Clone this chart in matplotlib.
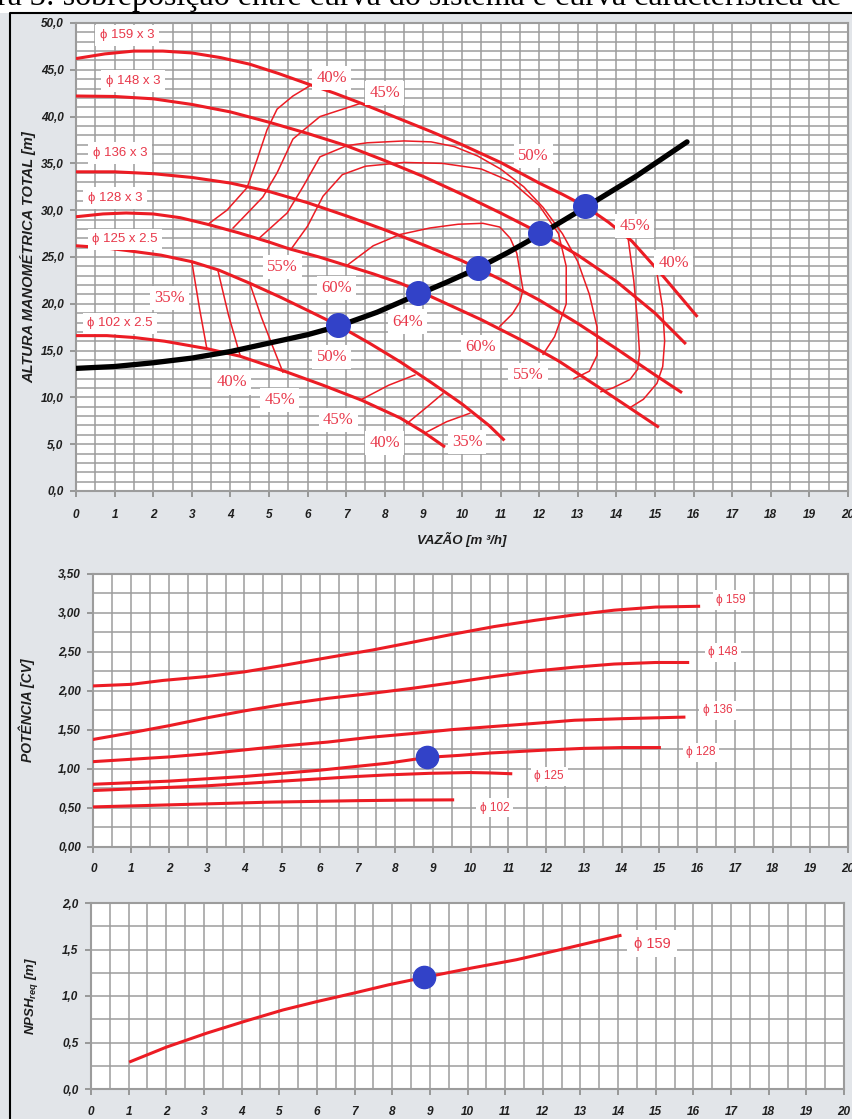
import numpy as np
import matplotlib.pyplot as plt
from matplotlib.ticker import MultipleLocator, FuncFormatter
from matplotlib.patches import Rectangle
from matplotlib.lines import Line2D

plt.rcParams['font.family'] = ['Liberation Sans', 'DejaVu Sans']
plt.rcParams['mathtext.fontset'] = 'custom'
plt.rcParams['mathtext.it'] = 'Liberation Sans:bold:italic'
plt.rcParams['mathtext.rm'] = 'Liberation Sans:bold:italic'

RED = '#ec1c24'
LBL_RED = '#e8384a'
BLUE = '#3242c8'

# ---- head curves (Q m3/h, H m) ----
q159 = [0, 0.75, 1.5, 2.25, 3, 3.75, 4.5, 5.25, 6, 6.7, 7.4, 8.3, 9.2, 10, 11, 12, 12.6, 13.2, 13.8, 14.4, 15.2, 16.1]
h159 = [46.2, 46.7, 47.0, 47.0, 46.8, 46.3, 45.6, 44.6, 43.5, 42.5, 41.4, 39.9, 38.4, 37.0, 35.1, 32.9, 31.7,
        30.4, 28.7, 26.7, 23.0, 18.6]
q148 = [0, 1, 2, 3, 4, 5, 6, 7, 8, 9, 10, 11, 12, 13, 14, 15, 15.8]
h148 = [42.2, 42.15, 41.9, 41.3, 40.5, 39.4, 38.2, 36.9, 35.3, 33.6, 31.7, 29.7, 27.6, 25.2, 22.4, 19.0, 15.7]
q136 = [0, 1, 2, 3, 4, 5, 6, 7, 8, 9, 10, 11, 12, 13, 14, 15, 15.7]
h136 = [34.1, 34.1, 33.9, 33.5, 32.9, 32.0, 30.8, 29.4, 27.9, 26.3, 24.6, 22.6, 20.4, 17.9, 15.2, 12.4, 10.5]
q128 = [0, 0.7, 1.3, 2, 2.7, 3.4, 4.2, 5, 5.5, 6.3, 7, 7.7, 8.4, 8.86, 9.5, 10.5, 11.5, 12.5, 13.5, 14.3, 15.1]
h128 = [29.3, 29.6, 29.7, 29.6, 29.2, 28.5, 27.6, 26.6, 25.9, 25.0, 24.1, 23.2, 22.2, 21.4, 20.2, 18.3, 16.2,
        13.9, 11.2, 9.0, 6.8]
q125 = [0, 0.7, 1.3, 2.2, 3, 3.7, 4.5, 5.3, 6, 6.79, 7.6, 8.4, 9.2, 10, 10.7, 11.1]
h125 = [26.2, 26.0, 25.7, 25.2, 24.5, 23.6, 22.2, 20.7, 19.3, 17.7, 15.8, 13.8, 11.6, 9.3, 7.0, 5.4]
q102 = [0, 0.8, 1.5, 2.3, 3.4, 4.25, 5.4, 6.4, 7.4, 8.4, 9.0, 9.56]
h102 = [16.6, 16.6, 16.4, 16.0, 15.2, 14.4, 12.8, 11.3, 9.7, 7.8, 6.3, 4.7]

# system curve
q_sys = [0, 1, 2, 3, 4, 5, 6, 6.79, 7.8, 8.86, 9.6, 10.41, 11.2, 12.02, 13.19, 14.5, 15.83]
h_sys = [13.1, 13.3, 13.7, 14.2, 14.9, 15.8, 16.7, 17.6, 19.1, 21.0, 22.3, 23.8, 25.5, 27.4, 30.3, 33.6, 37.3]
q_op = [6.79, 8.86, 10.41, 12.02, 13.19]
h_op = [17.7, 21.2, 23.8, 27.6, 30.4]

# iso-efficiency lines (Q list, H list)
eff_lines = [
    # upper family, left / right branches
    ([3.42, 3.91, 4.43, 4.69, 4.95, 5.21, 5.62, 6.06], [28.5, 30.0, 32.4, 35.4, 38.6, 40.8, 42.2, 43.3]),
    ([15.05, 15.2, 15.25, 15.2, 15.05, 14.7, 14.35], [23.3, 19.5, 16.0, 13.3, 11.5, 9.8, 8.9]),
    ([4.07, 4.84, 5.21, 5.62, 5.85, 6.32, 7.36], [28.1, 31.4, 34.0, 37.6, 38.4, 40.0, 41.4]),
    ([14.3, 14.45, 14.55, 14.6, 14.55, 14.35, 13.9, 13.6], [27.1, 22.5, 18.0, 14.7, 13.0, 11.9, 11.0, 10.6]),
    ([4.77, 5.47, 5.88, 6.32, 7.02, 7.54, 8.5, 9.2, 9.8, 10.4, 11.0, 11.6, 12.1, 12.6, 13.0, 13.3, 13.5, 13.5,
      13.3, 12.9],
     [27.1, 29.7, 32.5, 35.7, 36.9, 37.2, 37.4, 37.3, 36.8, 35.8, 34.4, 32.5, 30.3, 27.5, 24.5, 21.0, 17.5, 14.5,
      12.8, 12.0]),
    ([5.6, 6.0, 6.4, 6.9, 7.5, 8.5, 9.5, 10.5, 11.3, 12.0, 12.5, 12.7, 12.7, 12.4, 12.1],
     [26.0, 28.3, 31.5, 33.8, 34.7, 35.1, 35.0, 34.4, 33.0, 30.5, 27.5, 24.0, 20.0, 16.5, 14.6]),
    ([7.02, 7.7, 8.39, 9.17, 9.9, 10.54, 10.98, 11.25, 11.42, 11.58, 11.5, 11.3, 10.98],
     [24.1, 26.2, 27.4, 28.1, 28.5, 28.6, 28.2, 27.0, 25.4, 21.5, 20.2, 18.9, 17.6]),
    # lower family
    ([3.0, 3.2, 3.39], [24.5, 19.5, 15.2]),
    ([3.68, 3.95, 4.25], [23.5, 18.8, 14.5]),
    ([4.5, 4.8, 5.1, 5.36], [22.2, 18.6, 15.4, 12.7]),
    ([7.36, 8.1, 8.78], [9.7, 11.3, 12.4]),
    ([8.57, 9.1, 9.5], [7.2, 9.0, 10.4]),
    ([9.04, 9.6, 10.2], [6.2, 7.4, 8.3]),
]

head_labels = [('ϕ 159 x 3', 1.32, 48.7), ('ϕ 148 x 3', 1.48, 43.8), ('ϕ 136 x 3', 1.14, 36.1),
               ('ϕ 128 x 3', 1.01, 31.3), ('ϕ 125 x 2.5', 1.27, 26.9), ('ϕ 102 x 2.5', 1.14, 17.9)]
eff_labels = [('40%', 6.63, 44.1), ('45%', 8.0, 42.5), ('50%', 11.84, 35.8), ('45%', 14.48, 28.3),
              ('40%', 15.49, 24.4), ('55%', 5.34, 23.9), ('60%', 6.76, 21.7), ('64%', 8.58, 18.1),
              ('35%', 2.41, 20.6), ('50%', 6.63, 14.3), ('40%', 4.04, 11.6), ('45%', 5.28, 9.7),
              ('45%', 6.79, 7.6), ('40%', 8.0, 5.1), ('35%', 10.13, 5.2), ('60%', 10.47, 15.4),
              ('55%', 11.71, 12.4)]

# ---- power curves (CV) ----
pw = {
    'ϕ 159': ([0, 1, 1.84, 3, 4.0, 5, 6.3, 7.4, 8.46, 9.5, 10.62, 11.7, 12.75, 13.8, 14.9, 16.04],
              [2.06, 2.08, 2.13, 2.18, 2.24, 2.32, 2.43, 2.52, 2.62, 2.72, 2.82, 2.90, 2.97, 3.03, 3.07, 3.08]),
    'ϕ 148': ([0, 1, 2.0, 3, 4.0, 5, 6.2, 7.3, 8.46, 9.5, 10.62, 11.7, 12.75, 13.8, 14.9, 15.75],
              [1.375, 1.46, 1.55, 1.65, 1.74, 1.82, 1.90, 1.96, 2.03, 2.10, 2.18, 2.25, 2.30, 2.34, 2.36, 2.36]),
    'ϕ 136': ([0, 1, 2.0, 3, 4.0, 5, 6.2, 7.3, 8.46, 9.5, 10.6, 11.7, 12.75, 14, 15.65],
              [1.09, 1.12, 1.15, 1.19, 1.24, 1.29, 1.34, 1.40, 1.45, 1.50, 1.54, 1.58, 1.62, 1.64, 1.66]),
    'ϕ 128': ([0, 1, 2.0, 3, 4.0, 5, 6.0, 7, 7.8, 8.87, 9.7, 10.5, 11.3, 12.06, 13, 14, 15.0],
              [0.80, 0.82, 0.84, 0.87, 0.90, 0.94, 0.98, 1.03, 1.07, 1.145, 1.17, 1.20, 1.22, 1.24, 1.26, 1.27, 1.27]),
    'ϕ 125': ([0, 1, 2.0, 3, 4.0, 5, 6.0, 7, 7.8, 8.9, 9.96, 10.5, 11.06],
              [0.72, 0.74, 0.76, 0.78, 0.81, 0.84, 0.87, 0.90, 0.92, 0.94, 0.95, 0.945, 0.935]),
    'ϕ 102': ([0, 1.2, 2.3, 3.5, 4.6, 5.8, 7.0, 8.3, 9.52], [0.51, 0.525, 0.54, 0.555, 0.57, 0.58, 0.59, 0.597, 0.60]),
}
pw_label_pos = {'ϕ 159': (16.9, 3.16), 'ϕ 148': (16.69, 2.49), 'ϕ 136': (16.54, 1.75),
                'ϕ 128': (16.1, 1.21), 'ϕ 125': (12.08, 0.90), 'ϕ 102': (10.63, 0.50)}
pw_op = (8.83, 1.145)

# ---- NPSH ----
q_npsh = [1.05, 2.0, 3.07, 4.1, 5.1, 6.0, 6.97, 7.9, 8.85, 10.1, 11.3, 12.7, 14.05]
npsh = [0.295, 0.45, 0.60, 0.73, 0.85, 0.94, 1.03, 1.12, 1.20, 1.30, 1.39, 1.52, 1.65]
npsh_op = (8.85, 1.20)

W, H = 853, 1119
fig = plt.figure(figsize=(W / 100, H / 100), dpi=100, facecolor='#e2e5e9')
fig.patches.append(Rectangle((0, 1 - 13 / H), 1, 13 / H, transform=fig.transFigure,
                             facecolor='white', edgecolor='none', zorder=0))
fig.lines.append(Line2D([10 / W, 10 / W, 1], [0, 1 - 13 / H, 1 - 13 / H], transform=fig.transFigure,
                        color='black', lw=1.5))
fig.text(-0.004, 1 - 5 / H, 'ra 3: sobreposição entre curva do sistema e curva característica de',
         family='Liberation Serif', fontsize=23, va='baseline', ha='left')


def px_axes(l, t, r, b):
    return fig.add_axes([l / W, 1 - b / H, (r - l) / W, (b - t) / H])


def setup(ax, ymax, ymaj, ymin, fmt, xpad=5):
    ax.set_facecolor('white')
    ax.set_xlim(0, 20)
    ax.set_ylim(0, ymax)
    ax.xaxis.set_major_locator(MultipleLocator(1))
    ax.xaxis.set_minor_locator(MultipleLocator(0.5))
    ax.yaxis.set_major_locator(MultipleLocator(ymaj))
    ax.yaxis.set_minor_locator(MultipleLocator(ymin))
    ax.yaxis.set_major_formatter(FuncFormatter(lambda v, p: (fmt % v).replace('.', ',')))
    ax.grid(which='both', color='#9c9c9c', lw=1.1)
    ax.set_axisbelow(True)
    ax.tick_params(which='major', direction='out', length=4, color='#8a8a8a', width=1.2,
                   labelsize=8.5, labelcolor='#1e1e1e', pad=5)
    ax.tick_params(axis='x', which='major', pad=xpad)
    ax.tick_params(which='minor', length=0)
    for lbl in ax.get_xticklabels() + ax.get_yticklabels():
        lbl.set_fontweight('bold')
        lbl.set_fontstyle('italic')
    for s in ax.spines.values():
        s.set_color('#9c9c9c')
        s.set_linewidth(1.5)


def box_label(ax, txt, x, y, serif=False, size=9.5, pad=0.35):
    ax.text(x, y, txt, ha='center', va='center', color=LBL_RED, fontsize=size,
            family=['Liberation Serif', 'DejaVu Serif'] if serif else ['Liberation Sans', 'DejaVu Sans'],
            bbox=dict(boxstyle='square,pad=%s' % pad, facecolor='white', edgecolor='none'), zorder=4)


# ---- top chart ----
ax1 = px_axes(76, 23, 848, 491)
setup(ax1, 50, 5, 1, '%.1f', xpad=9)
for q, h in [(q159, h159), (q148, h148), (q136, h136), (q128, h128), (q125, h125), (q102, h102)]:
    ax1.plot(q, h, color=RED, lw=2.2, zorder=3, solid_capstyle='butt', solid_joinstyle='round')
for q, h in eff_lines:
    ax1.plot(q, h, color=RED, lw=1.1, zorder=3, solid_joinstyle='round')
for t, x, y in head_labels:
    box_label(ax1, t, x, y, size=9.5)
for t, x, y in eff_labels:
    box_label(ax1, t, x, y, serif=True, size=12, pad=0.25)
ax1.plot(q_sys, h_sys, color='black', lw=3.8, zorder=5, solid_capstyle='round', solid_joinstyle='round')
ax1.plot(q_op, h_op, 'o', color=BLUE, ms=17, zorder=6)
ax1.set_ylabel('ALTURA MANOMÉTRICA TOTAL [m]', fontsize=10.5, fontweight='bold', fontstyle='italic',
               color='#1e1e1e', labelpad=3)
ax1.set_xlabel('VAZÃO [m ³/h]', fontsize=9.5, fontweight='bold', fontstyle='italic',
               color='#1e1e1e', labelpad=8)

# ---- power chart ----
ax2 = px_axes(93.5, 573.5, 848, 846.7)
setup(ax2, 3.5, 0.5, 0.25, '%.2f', xpad=8)
for name, (q, p) in pw.items():
    ax2.plot(q, p, color=RED, lw=2.2, zorder=3, solid_joinstyle='round')
    box_label(ax2, name, *pw_label_pos[name], size=8.5, pad=0.3)
ax2.plot(*pw_op, 'o', color=BLUE, ms=16, zorder=6)
ax2.set_ylabel('POTÊNCIA [CV]', fontsize=10, fontweight='bold', fontstyle='italic',
               color='#1e1e1e', labelpad=17)

# ---- NPSH chart ----
ax3 = px_axes(91, 903, 844, 1089)
setup(ax3, 2.0, 0.5, 0.25, '%.1f', xpad=8)
ax3.plot(q_npsh, npsh, color=RED, lw=2.2, zorder=3, solid_joinstyle='round')
box_label(ax3, 'ϕ 159', 14.9, 1.56, size=10.5, pad=0.45)
ax3.plot(*npsh_op, 'o', color=BLUE, ms=16, zorder=6)
ax3.set_ylabel('NPSH$_{req}$ [m]', fontsize=9.5, fontweight='bold', fontstyle='italic',
               color='#1e1e1e', labelpad=16)

fig.savefig('out.png', dpi=100, facecolor=fig.get_facecolor())
